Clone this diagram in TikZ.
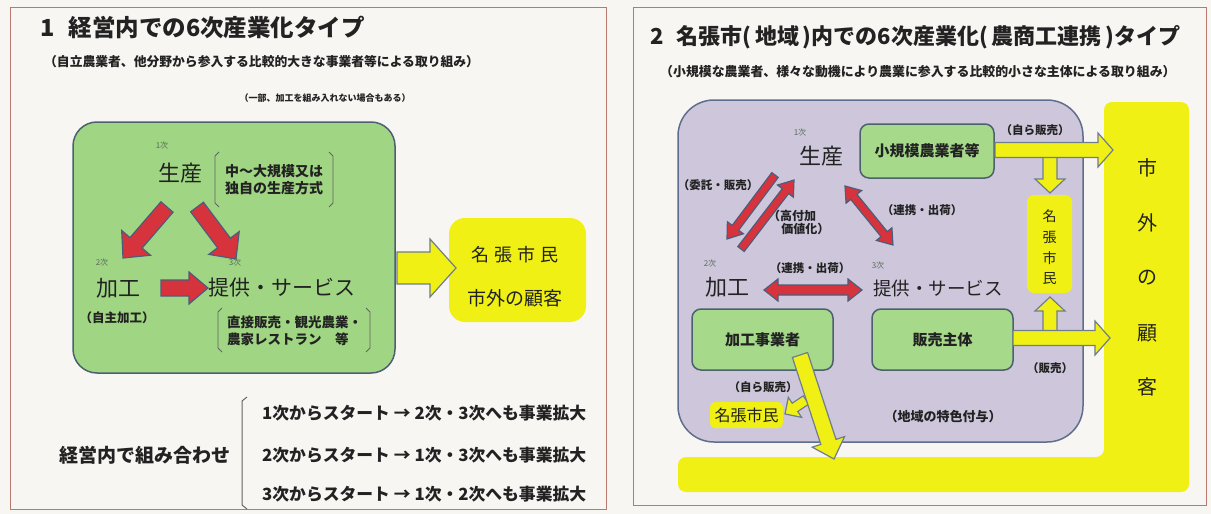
\documentclass[tikz,border=0pt]{standalone}
\usepackage{fontspec}
\setmainfont{Noto Sans CJK JP}
\usetikzlibrary{calc}
\definecolor{bg}{HTML}{F8F6F3}
\definecolor{frame}{HTML}{B87A6E}
\definecolor{gfill}{HTML}{A0D683}
\definecolor{gfillb}{HTML}{A6D98A}
\definecolor{gedge}{HTML}{4D6070}
\definecolor{pfill}{HTML}{CEC7DB}
\definecolor{pedge}{HTML}{5D6F8C}
\definecolor{yel}{HTML}{F0F014}
\definecolor{yedge}{HTML}{6F7E8C}
\definecolor{rfill}{HTML}{D7333D}
\definecolor{redge}{HTML}{4C5D7C}
\definecolor{txt}{HTML}{222222}
\definecolor{smalltxt}{HTML}{5A6A5A}
\newcommand\fsz[1]{\fontsize{#1}{#1}\selectfont}
% single fat arrow: style, from, to, half shaft, half head, head length
\newcommand\sarrow[6]{%
\draw[#1] let \p1=(#2), \p2=(#3), \n1={veclen(\x2-\x1,\y2-\y1)}, \n2={atan2(\y2-\y1,\x2-\x1)} in
 ([shift={(\p1)},rotate=\n2]0pt,#4) -- ([shift={(\p1)},rotate=\n2]\n1-#6,#4) -- ([shift={(\p1)},rotate=\n2]\n1-#6,#5) -- ([shift={(\p1)},rotate=\n2]\n1,0pt) -- ([shift={(\p1)},rotate=\n2]\n1-#6,-#5) -- ([shift={(\p1)},rotate=\n2]\n1-#6,-#4) -- ([shift={(\p1)},rotate=\n2]0pt,-#4) -- cycle;}
% double fat arrow
\newcommand\darrow[6]{%
\draw[#1] let \p1=(#2), \p2=(#3), \n1={veclen(\x2-\x1,\y2-\y1)}, \n2={atan2(\y2-\y1,\x2-\x1)} in
 ([shift={(\p1)},rotate=\n2]0pt,0pt) -- ([shift={(\p1)},rotate=\n2]#6,#5) -- ([shift={(\p1)},rotate=\n2]#6,#4) -- ([shift={(\p1)},rotate=\n2]\n1-#6,#4) -- ([shift={(\p1)},rotate=\n2]\n1-#6,#5) -- ([shift={(\p1)},rotate=\n2]\n1,0pt) -- ([shift={(\p1)},rotate=\n2]\n1-#6,-#5) -- ([shift={(\p1)},rotate=\n2]\n1-#6,-#4) -- ([shift={(\p1)},rotate=\n2]#6,-#4) -- ([shift={(\p1)},rotate=\n2]#6,-#5) -- cycle;}
\begin{document}
\begin{tikzpicture}[x=1pt,y=-1pt,
  t/.style={inner sep=0pt, text=txt},
  tag/.style={inner sep=0pt, text=smalltxt, font=\fsz{8}},
  panel/.style={draw=frame, line width=0.9pt},
  gbox/.style={draw=gedge, line width=1.5pt, fill=gfill, rounded corners=24pt},
  gboxs/.style={draw=gedge, line width=1.5pt, fill=gfillb, rounded corners=9pt},
  pbox/.style={draw=pedge, line width=1.5pt, fill=pfill, rounded corners=36pt},
  ybox/.style={fill=yel, rounded corners=#1},
  brk/.style={draw=txt!70, line width=0.8pt, line join=round},
  rarr/.style={fill=rfill, draw=redge, line width=1.2pt, line join=miter},
  yarr/.style={fill=yel, draw=yedge, line width=1.2pt, line join=miter},
  vbig/.style={inner sep=0pt, text=txt, font=\fsz{20}},
  vsmall/.style={inner sep=0pt, text=txt, font=\fsz{14}}
]
\useasboundingbox (0,0) rectangle (1211,514);
\fill[bg] (0,0) rectangle (1211,514);

% ================= LEFT PANEL =================
\draw[panel] (10,7) rectangle (606,509);
\node[t, anchor=west, font=\fsz{23.5}\bfseries] (t1) at (40,27) {1\hspace{0.6em}経営内での6次産業化タイプ};
\node[t, anchor=west, font=\fsz{12.8}\bfseries] (s1) at (44,62) {（自立農業者、他分野から参入する比較的大きな事業者等による取り組み）};
\node[t, font=\fsz{9}\bfseries] (n1) at (325,98) {（一部、加工を組み入れない場合もある）};

\node[gbox, minimum width=322pt, minimum height=251pt] (gb) at (234,247.5) {};
\node[ybox=16pt, minimum width=137pt, minimum height=104pt] (yb) at (517.5,270) {};

\node[tag] (l1) at (162,145) {1次};
\node[t, font=\fsz{22}] (lsei) at (180,173) {生産};
\node[t, font=\fsz{14}\bfseries, align=left] (lseib) at (274,180) {中～大規模又は\\[3pt]独自の生産方式};
\draw[brk] (219,152) -- (215,156) -- (215,203) -- (219,207);
\draw[brk] (329,152) -- (333,156) -- (333,203) -- (329,207);

\node[tag] (l2) at (102,262) {2次};
\node[t, font=\fsz{22}] (lkako) at (118,288) {加工};
\node[t, font=\fsz{12.5}\bfseries] (ljishu) at (117,318) {（自主加工）};

\node[tag] (l3) at (235,262) {3次};
\node[t, font=\fsz{21}] (lteikyo) at (282,288) {提供・サービス};
\node[t, font=\fsz{13.5}\bfseries, anchor=west, align=left] (lteikyob) at (227,331) {直接販売・観光農業・\\[3pt]農家レストラン　等};
\draw[brk] (222,308) -- (218,312) -- (218,348) -- (222,352);
\draw[brk] (366,308) -- (370,312) -- (370,348) -- (366,352);

\coordinate (la1s) at (167,207); \coordinate (la1e) at (123,258);
\coordinate (la2s) at (197,207); \coordinate (la2e) at (236,259);
\coordinate (la3s) at (161,288); \coordinate (la3e) at (208,288);
\sarrow{rarr}{la1s}{la1e}{8pt}{19pt}{20pt}
\sarrow{rarr}{la2s}{la2e}{8pt}{19pt}{20pt}
\sarrow{rarr}{la3s}{la3e}{8pt}{16pt}{19pt}

\coordinate (lys) at (397,268); \coordinate (lye) at (456,268);
\sarrow{yarr}{lys}{lye}{16pt}{29pt}{26pt}

\node[t, font=\fsz{18}] (lnab) at (515,255) {名\hspace{5pt}張\hspace{5pt}市\hspace{5pt}民};
\node[t, font=\fsz{19}] (lsigai) at (515,298) {市外の顧客};

\node[t, font=\fsz{19}\bfseries] (comb) at (145,455) {経営内で組み合わせ};
\draw[brk, line width=1pt] (247,397) -- (242,401) -- (242,505) -- (247,509);
\node[t, font=\fsz{16.8}\bfseries, anchor=west] (c1) at (262,413) {1次からスタート → 2次・3次へも事業拡大};
\node[t, font=\fsz{16.8}\bfseries, anchor=west] (c2) at (262,455) {2次からスタート → 1次・3次へも事業拡大};
\node[t, font=\fsz{16.8}\bfseries, anchor=west] (c3) at (262,494) {3次からスタート → 1次・2次へも事業拡大};

% ================= RIGHT PANEL =================
\draw[panel] (633,7) rectangle (1206,505);
\node[t, anchor=west, font=\fsz{22}\bfseries] (t2) at (650,37) {2\hspace{0.6em}名張市(\,地域\,)内での6次産業化(\,農商工連携\,)タイプ};
\node[t, anchor=west, font=\fsz{12.9}\bfseries] (s2) at (660,72) {（小規模な農業者、様々な動機により農業に参入する比較的小さな主体による取り組み）};

\fill[yel, rounded corners=8pt] (1104,102) -- (1189,102) -- (1189,492) -- (678,492) -- (678,457) -- (1104,457) -- cycle;
\node[vbig] (rv1) at (1147,168) {市};
\node[vbig] (rv2) at (1147,223) {外};
\node[vbig] (rv3) at (1147,278) {の};
\node[vbig] (rv4) at (1147,333) {顧};
\node[vbig] (rv5) at (1147,387) {客};

\node[pbox, minimum width=405pt, minimum height=342pt] (pb) at (880.5,271) {};

\node[gboxs, minimum width=134pt, minimum height=54pt, font=\fsz{15}\bfseries, text=txt] (ssn) at (927,151) {小規模農業者等};
\node[gboxs, minimum width=141pt, minimum height=61pt, font=\fsz{15}\bfseries, text=txt] (kjg) at (762.5,339.5) {加工事業者};
\node[gboxs, minimum width=141pt, minimum height=61pt, font=\fsz{15}\bfseries, text=txt] (hbs) at (942.5,339.5) {販売主体};

\node[ybox=7pt, minimum width=45pt, minimum height=98pt] (ynv) at (1049.5,244) {};
\node[vsmall] (nv1) at (1049.5,216) {名};
\node[vsmall] (nv2) at (1049.5,237) {張};
\node[vsmall] (nv3) at (1049.5,258) {市};
\node[vsmall] (nv4) at (1049.5,279) {民};
\node[ybox=5pt, minimum width=73pt, minimum height=26pt, font=\fsz{16}, text=txt] (ynh) at (746.5,415) {名張市民};

\node[tag] (r1) at (800,132) {1次};
\node[t, font=\fsz{22}] (rsei) at (821,156) {生産};
\node[tag] (r2) at (710,263) {2次};
\node[t, font=\fsz{22}] (rkako) at (727,287) {加工};
\node[tag] (r3) at (878,265) {3次};
\node[t, font=\fsz{18.5}] (rteikyo) at (938,288) {提供・サービス};

\node[t, font=\fsz{11.5}\bfseries] (itaku) at (718,185) {（委託・販売）};
\node[t, font=\fsz{12}\bfseries, anchor=north west, align=left] (kofuka) at (768,210) {（高付加\\[1pt]\hspace*{1.1em}価値化）};
\node[t, font=\fsz{11.5}\bfseries] (renk1) at (922,210) {（連携・出荷）};
\node[t, font=\fsz{11.5}\bfseries] (renk2) at (810,268) {（連携・出荷）};

\coordinate (ra1s) at (775,175); \coordinate (ra1e) at (727,239);
\coordinate (ra2s) at (741,249); \coordinate (ra2e) at (794,180);
\coordinate (ra3s) at (845,186); \coordinate (ra3e) at (893,245);
\coordinate (ra4s) at (764,290); \coordinate (ra4e) at (862,290);
\sarrow{rarr}{ra1s}{ra1e}{4pt}{10pt}{14pt}
\sarrow{rarr}{ra2s}{ra2e}{4pt}{10pt}{14pt}
\darrow{rarr}{ra3s}{ra3e}{4pt}{10pt}{14pt}
\darrow{rarr}{ra4s}{ra4e}{5pt}{11pt}{14pt}

\node[t, font=\fsz{11.5}\bfseries] (jh1) at (1035,130) {（自ら販売）};
\node[t, font=\fsz{11.5}\bfseries] (hb1) at (1050,368) {（販売）};
\node[t, font=\fsz{11.5}\bfseries] (jh2) at (763,387) {（自ら販売）};
\node[t, font=\fsz{13}\bfseries] (tokus) at (943,417) {（地域の特色付与）};

\coordinate (ry1s) at (995,150); \coordinate (ry1e) at (1113,150);
\coordinate (ry2s) at (1050,157); \coordinate (ry2e) at (1050,193);
\coordinate (ry3s) at (1013,338); \coordinate (ry3e) at (1110,338);
\coordinate (ry4s) at (1050,332); \coordinate (ry4e) at (1050,297);
\coordinate (ry5s) at (800,355); \coordinate (ry5e) at (834,459);
\coordinate (ry6s) at (806,400); \coordinate (ry6e) at (785,414);
\sarrow{yarr}{ry2s}{ry2e}{7pt}{15pt}{14pt}
\sarrow{yarr}{ry4s}{ry4e}{7pt}{15pt}{14pt}
\sarrow{yarr}{ry1s}{ry1e}{7.5pt}{17pt}{15pt}
\sarrow{yarr}{ry3s}{ry3e}{7.5pt}{17pt}{15pt}
\sarrow{yarr}{ry6s}{ry6e}{5pt}{12pt}{12pt}
\sarrow{yarr}{ry5s}{ry5e}{8pt}{17pt}{18pt}
\end{tikzpicture}
\end{document}
